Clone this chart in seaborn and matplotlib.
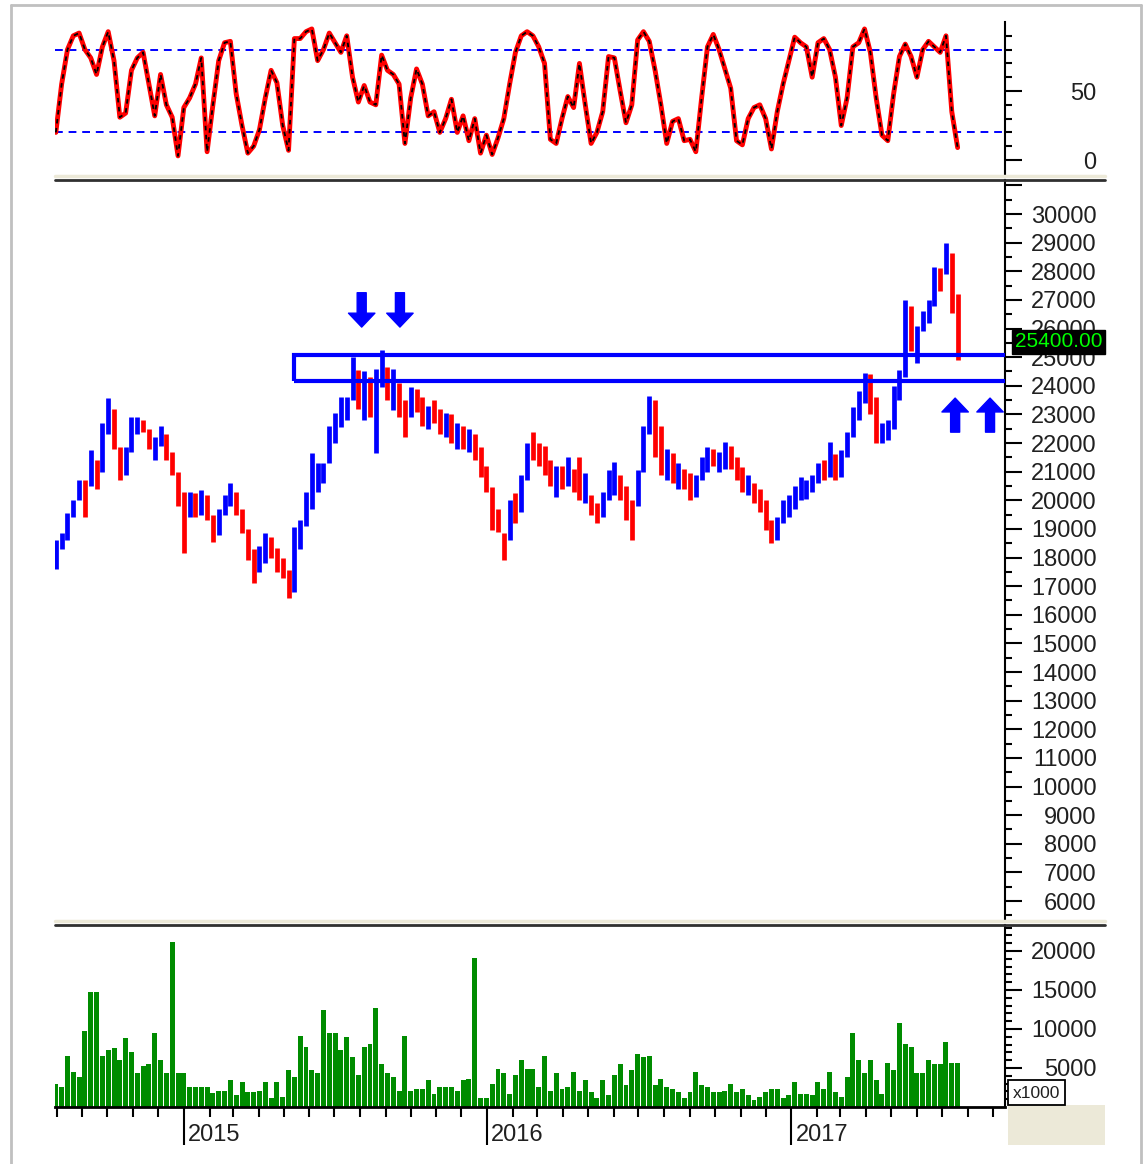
import numpy as np
import pandas as pd
import matplotlib
matplotlib.use('Agg')
import matplotlib.pyplot as plt
import matplotlib.dates as mdates
import matplotlib.transforms as mtransforms
from matplotlib.lines import Line2D
from matplotlib.patches import Rectangle
import seaborn as sns

# weekly bars
low = [17600, 18300, 18600, 19400, 20000, 19400, 20500, 20400, 21000, 22300,
       21800, 20700, 20900, 21700, 22300, 22400, 21800, 21400, 21900, 21400,
       20900, 19800, 18150, 19400, 19400, 19500, 19300, 18550, 18800, 19500,
       19800, 19500, 18850, 17900, 17100, 17500, 17800, 18000, 17500, 17300,
       16600, 16800, 18300, 19100, 19700, 20300, 20600, 21300, 22000, 22550,
       22800, 23500, 23200, 22800, 22900, 21650, 23950, 23500, 23150, 22900,
       22200, 22900, 23100, 22600, 22500, 22700, 22300, 22200, 22000, 21800,
       21800, 21700, 21400, 20800, 20300, 18950, 18900, 17900, 18600, 19200,
       19600, 20700, 21400, 21200, 20900, 20500, 20100, 20400, 20500, 20300,
       20000, 19900, 19500, 19200, 19400, 20000, 20200, 20000, 19300, 18600,
       19800, 21000, 22300, 21500, 20900, 20700, 20600, 20400, 20400, 20000,
       20100, 20700, 21000, 21200, 21000, 21100, 21100, 20700, 20300, 20200,
       19900, 19600, 18950, 18500, 18600, 19200, 19400, 19700, 20000, 20050,
       20300, 20600, 20700, 20800, 20700, 20800, 21500, 22200, 22800, 23400,
       23000, 22000, 22000, 22100, 22500, 23500, 24300, 25200, 24800, 25900,
       26200, 26800, 27300, 27900, 26550, 24900]
high = [18600, 18850, 19550, 20000, 20700, 20700, 21750, 21400, 22700, 23570,
        23200, 21850, 21850, 22900, 22900, 22800, 22500, 22200, 22600, 22300,
        21700, 21000, 20300, 20300, 20250, 20350, 20200, 19500, 19700, 20200,
        20600, 20300, 19700, 19000, 18300, 18400, 18850, 18700, 18350, 18000,
        17550, 19050, 19300, 20300, 21650, 21300, 21300, 22600, 23050, 23600,
        23600, 25000, 24550, 24500, 24300, 24600, 25250, 24650, 24600, 24100,
        23500, 23950, 23900, 23600, 23300, 23500, 23200, 23050, 23000, 22700,
        22600, 22500, 22300, 21850, 21200, 20450, 19700, 18850, 20000, 20250,
        20900, 22000, 22400, 22000, 21900, 21400, 21200, 21200, 21500, 21100,
        21500, 20950, 20200, 19900, 20300, 21050, 21350, 20900, 20500, 20000,
        21050, 22600, 23650, 23500, 22600, 21800, 21650, 21300, 21100, 20950,
        20900, 21500, 21850, 21800, 21700, 22050, 21900, 21500, 21150, 20900,
        20600, 20400, 20000, 19300, 19400, 20000, 20200, 20500, 20800, 20700,
        20900, 21300, 21400, 22050, 21600, 21750, 22400, 23250, 23800, 24450,
        24400, 23600, 22700, 22800, 24000, 24550, 27000, 26800, 26100, 26600,
        27000, 28150, 28100, 29000, 28650, 27200]
close = [18300, 18700, 19400, 19900, 20500, 20300, 21400, 20900, 22500, 23200,
         22000, 21200, 21700, 22600, 22600, 22500, 21900, 22000, 22200, 21600,
         21000, 20000, 19700, 19900, 19800, 20100, 19500, 18800, 19500, 20000,
         20300, 19700, 19000, 18200, 17600, 18100, 18500, 18200, 17800, 17500,
         16900, 18800, 19100, 20100, 20600, 21000, 21200, 22400, 22800, 23200,
         23500, 24300, 23900, 24100, 23400, 24200, 24700, 23800, 24200, 23300,
         22700, 23600, 23300, 22900, 23100, 23000, 22500, 22800, 22300, 22400,
         22000, 22100, 21600, 21000, 20500, 19200, 19000, 18300, 19700, 19600,
         20700, 21800, 21700, 21400, 21100, 20700, 21000, 20700, 21200, 20600,
         20400, 20500, 19700, 19500, 20100, 20700, 20800, 20300, 19600, 19500,
         20900, 22400, 23000, 22000, 21300, 21400, 20900, 21000, 20600, 20300,
         20700, 21200, 21600, 21400, 21500, 21800, 21300, 20900, 20500, 20500,
         20100, 19800, 19200, 18700, 19200, 19700, 19900, 20300, 20300, 20500,
         20800, 21100, 21000, 21300, 20900, 21600, 22200, 23000, 23600, 24200,
         23300, 22300, 22400, 22500, 23800, 24300, 26300, 25600, 25900, 26400,
         26800, 27700, 27600, 28500, 26800, 25400]
stoch = [20, 55, 80, 90, 92, 80, 74, 62, 82, 93,
         72, 31, 34, 65, 74, 78, 55, 32, 62, 40,
         31, 3, 38, 45, 55, 74, 6, 40, 72, 85,
         86, 48, 25, 5, 10, 22, 45, 65, 56, 25,
         7, 88, 88, 93, 95, 72, 80, 92, 85, 78,
         90, 60, 42, 54, 42, 40, 76, 65, 62, 55,
         12, 45, 66, 55, 32, 35, 20, 30, 44, 20,
         32, 14, 30, 5, 18, 4, 16, 30, 55, 78,
         90, 93, 90, 82, 70, 15, 12, 30, 46, 38,
         70, 40, 12, 20, 35, 75, 74, 50, 27, 40,
         87, 93, 86, 65, 40, 12, 28, 30, 14, 15,
         6, 45, 82, 91, 80, 66, 52, 14, 11, 30,
         38, 40, 30, 8, 35, 55, 72, 89, 85, 82,
         60, 85, 88, 80, 60, 25, 45, 82, 85, 95,
         78, 45, 18, 14, 48, 75, 84, 75, 60, 80,
         86, 82, 78, 90, 35, 9]
volume = [3000, 2500, 6500, 4500, 3800, 9800, 14700, 14700, 6500, 7300,
          7500, 6000, 8900, 7000, 4300, 5300, 5500, 9500, 6000, 4300,
          21200, 4300, 4300, 2600, 2600, 2500, 2500, 1800, 2100, 2100,
          3400, 1500, 3200, 1900, 1900, 2100, 3200, 1100, 3200, 1300,
          4700, 3800, 9100, 7700, 4700, 4300, 12400, 9500, 9500, 7300,
          9000, 6400, 4100, 7700, 8100, 12700, 5500, 4300, 3800, 2100,
          9100, 2100, 2300, 2300, 3400, 1700, 2600, 2600, 2600, 2100,
          3400, 3600, 19100, 1100, 1100, 3000, 4900, 4300, 1700, 4100,
          6000, 4900, 4900, 2600, 6500, 2100, 4300, 2300, 2600, 4500,
          2100, 3400, 1900, 1100, 3400, 1500, 4100, 5500, 2800, 4700,
          6800, 6400, 6500, 2800, 3600, 2600, 2300, 1900, 1100, 1900,
          4500, 2800, 2600, 1900, 1900, 2100, 3000, 1900, 2300, 1500,
          900, 1300, 1900, 2300, 2300, 1100, 1500, 3200, 1700, 1700,
          1500, 3200, 2300, 4500, 1900, 1300, 3800, 9500, 6000, 4300,
          6000, 3400, 1700, 5600, 4700, 10800, 8100, 7700, 4300, 4300,
          6000, 5500, 5500, 8300, 5600, 5600]

zone_start = '2015-05-13'
zone_low, zone_high = 24170, 25080
down_arrows = ['2015-08-03', '2015-09-18']
up_arrows = ['2017-07-17', '2017-08-28']
year_ticks = ['2015-01-01', '2016-01-01', '2017-01-01']
year_labels = ['2015', '2016', '2017']

dates = pd.date_range('2014-07-31', periods=len(close), freq='7D')
df = pd.DataFrame({'date': dates, 'low': low, 'high': high, 'close': close,
                   'stoch': stoch, 'volume': volume})
prev = df['close'].shift(1).fillna(0)
df['col'] = np.where(df['close'] >= prev, '#0000ff', '#ff0000')

sns.set_style('white')
plt.rcParams['font.family'] = ['Liberation Sans', 'DejaVu Sans']

W, H = 1148, 1164
fig = plt.figure(figsize=(W / 100, H / 100), dpi=100)


def rect(x0, y0, x1, y1):
    return [x0 / W, 1 - y1 / H, (x1 - x0) / W, (y1 - y0) / H]


ax_s = fig.add_axes(rect(55, 22, 1005, 177))
ax_p = fig.add_axes(rect(55, 180, 1005, 920))
ax_v = fig.add_axes(rect(55, 925, 1005, 1107))
xlim = (pd.Timestamp('2014-07-30'), pd.Timestamp('2017-09-15'))
LAB = 17


def style_axis(ax, majors, labels, minors, maj_len=12, pad=54):
    ax.set_xlim(xlim)
    for s in ['left', 'top', 'bottom']:
        ax.spines[s].set_visible(False)
    ax.spines['right'].set_linewidth(1.5)
    ax.spines['right'].set_color('black')
    ax.yaxis.tick_right()
    ax.set_yticks(majors)
    ax.set_yticklabels(labels)
    ax.set_yticks(minors, minor=True)
    ax.tick_params(axis='y', which='major', length=maj_len, width=1.5,
                   color='black', labelsize=LAB, pad=pad, labelcolor='#202020')
    ax.tick_params(axis='y', which='minor', length=5, width=1.5, color='black')
    for lab in ax.get_yticklabels():
        lab.set_horizontalalignment('right')
    ax.set_xlabel('')
    ax.set_ylabel('')


# stochastic panel
sns.lineplot(data=df, x='date', y='stoch', ax=ax_s, color='#ff0000', lw=3.5)
ax_s.plot(df['date'], df['stoch'], color='black', lw=1.3, ls=(0, (2.5, 2.5)))
for lvl in [80, 20]:
    ax_s.axhline(lvl, color='#0000ff', lw=1.4, ls=(0, (4, 3)), zorder=1)
ax_s.set_ylim(-12.3, 100)
style_axis(ax_s, [0, 50], ['0', '50'], [10, 20, 30, 40, 60, 70, 80, 90])
ax_s.set_xticks([])

# price panel
ax_p.vlines(df['date'], df['low'], df['high'], colors=df['col'], lw=3.4)
zs = mdates.date2num(pd.Timestamp(zone_start))
ax_p.add_patch(Rectangle((zs, zone_low), 2000, zone_high - zone_low,
                         fill=False, ec='#0000ff', lw=3, zorder=3))
arrow_style = 'simple,head_length=1.0,head_width=1.9,tail_width=0.65'
for d in down_arrows:
    ax_p.annotate('', xy=(pd.Timestamp(d), 26050), xytext=(pd.Timestamp(d), 27250),
                  arrowprops=dict(arrowstyle=arrow_style, color='#0000ff',
                                  shrinkA=0, shrinkB=0, mutation_scale=10))
for d in up_arrows:
    ax_p.annotate('', xy=(pd.Timestamp(d), 23570), xytext=(pd.Timestamp(d), 22380),
                  arrowprops=dict(arrowstyle=arrow_style, color='#0000ff',
                                  shrinkA=0, shrinkB=0, mutation_scale=10),
                  annotation_clip=False)
ax_p.set_ylim(5338, 31188)
pmaj = list(range(6000, 31001, 1000))
pmin = [v for v in range(5500, 31001, 500) if v % 1000]
style_axis(ax_p, pmaj, [str(v) if v <= 30000 else '' for v in pmaj], pmin)
ax_p.set_xticks([])
tr = mtransforms.blended_transform_factory(ax_p.transAxes, ax_p.transData)
ax_p.annotate(f'{close[-1]:.2f}', xy=(1.0105, close[-1]), xycoords=tr,
              xytext=(0, 4), textcoords='offset pixels', color='#00ff00',
              fontsize=15, va='center', ha='left', zorder=10, annotation_clip=False,
              bbox=dict(boxstyle='square,pad=0.12', fc='black', ec='black'))

# volume panel
ax_v.bar(df['date'], df['volume'], width=6, color='#008c00', lw=0)
ax_v.set_ylim(0, 23333)
vmaj = [5000, 10000, 15000, 20000]
vmin = [v for v in range(1000, 23001, 1000) if v % 5000]
style_axis(ax_v, vmaj, [str(v) for v in vmaj], vmin)
ax_v.spines['bottom'].set_visible(True)
ax_v.spines['bottom'].set_linewidth(2)
ax_v.spines['bottom'].set_color('black')
ax_v.set_xticks([pd.Timestamp(d) for d in year_ticks])
ax_v.set_xticklabels([])
ax_v.xaxis.set_minor_locator(mdates.MonthLocator())
ax_v.tick_params(axis='x', which='both', bottom=True, direction='out')
ax_v.tick_params(axis='x', which='major', length=27, width=1.5, color='black')
ax_v.tick_params(axis='x', which='minor', length=7, width=1.5, color='black')
for d, t in zip(year_ticks, year_labels):
    ax_v.annotate(t, xy=(pd.Timestamp(d), 0), xycoords=('data', 'axes fraction'),
                  xytext=(4, -34), textcoords='offset pixels', ha='left',
                  va='baseline', fontsize=LAB, color='#202020')


# window chrome: separators, frame, unit box
def fline(x0, x1, y0, y1, color, lw):
    fig.add_artist(Line2D([x0 / W, x1 / W], [1 - y0 / H, 1 - y1 / H],
                          transform=fig.transFigure, color=color, lw=lw))


for y in [176, 921]:
    fline(55, 1105, y, y, '#ece9d8', 2.5)
    fline(55, 1105, y + 3.5, y + 3.5, '#303030', 2)
fline(11, 1141, 5, 5, '#c0c0c0', 2)
fline(11, 11, 5, 1164, '#c0c0c0', 2)
fline(1141, 1141, 5, 1164, '#c0c0c0', 2)
fig.add_artist(Rectangle((1008 / W, 1 - 1145 / H), 97 / W, 40 / H,
                         transform=fig.transFigure, fc='#ece9d8', ec='none'))
fig.add_artist(Rectangle((1008 / W, 1 - 1105 / H), 57 / W, 25 / H,
                         transform=fig.transFigure, fc='white', ec='black', lw=1.3))
fig.text(1036 / W, 1 - 1093 / H, 'x1000', fontsize=12.5, ha='center', va='center',
         color='#202020')

fig.savefig('out.png', dpi=100)
